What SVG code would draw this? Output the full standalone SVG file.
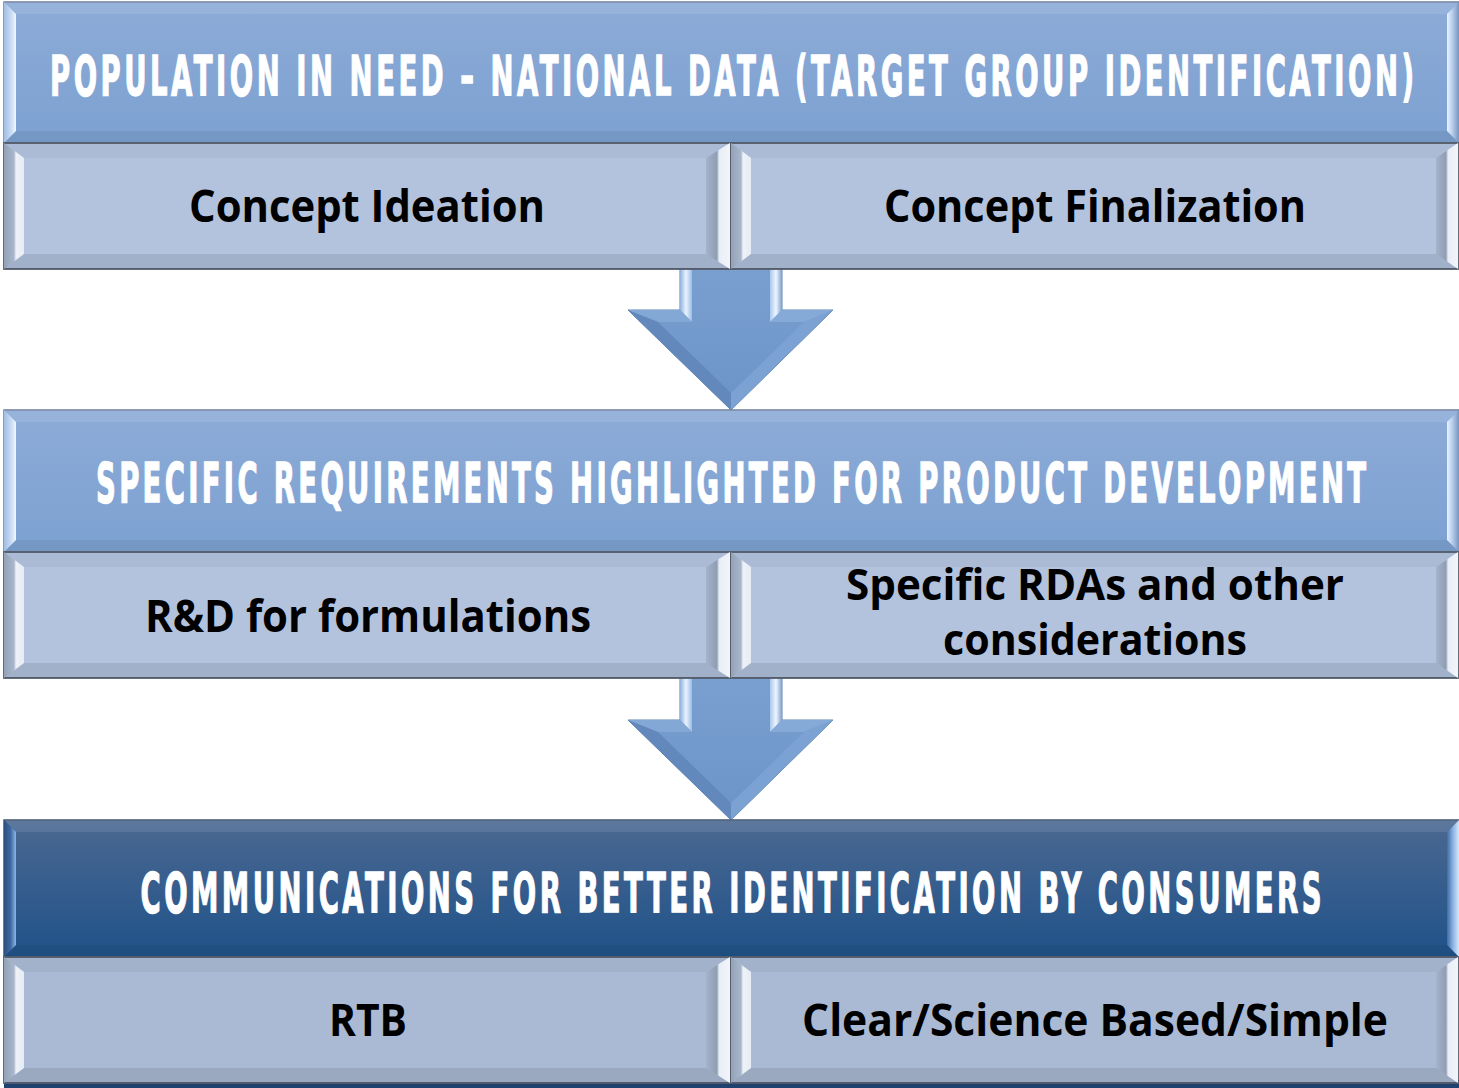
<svg xmlns="http://www.w3.org/2000/svg" width="1459" height="1088" viewBox="0 0 1459 1088">
  <style>
    .hdr { font-family: "DejaVu Sans", "Liberation Sans", sans-serif; font-weight: bold; font-size: 55px; fill: #ffffff; stroke: #ffffff; stroke-width: 1.4; text-anchor: middle; }
    .lbl { font-family: "Open Sans", "Liberation Sans", sans-serif; font-weight: 700; font-size: 45px; fill: #000000; text-anchor: middle; }
    .lbl2 { font-size: 43px; }
    .band-edge { stroke: #6c7d98; stroke-width: 1.5; }
    .sub-edge { stroke: #555d6b; stroke-width: 1.8; }
    .top-light { fill: #ffffff; opacity: 0.10; }
    .bot-dark { fill: #000000; opacity: 0.06; }
    .sub-top { fill: #000000; opacity: 0.04; }
    .sub-bot { fill: #000000; opacity: 0.09; }
  </style>
  <defs>
    <linearGradient id="bandLight" x1="0" y1="0" x2="0" y2="1">
      <stop offset="0" stop-color="#8dabd7"/>
      <stop offset="1" stop-color="#7ca1d1"/>
    </linearGradient>
    <linearGradient id="bandDark" x1="0" y1="0" x2="0" y2="1">
      <stop offset="0" stop-color="#4b6891"/>
      <stop offset="1" stop-color="#1f5289"/>
    </linearGradient>
    <!-- bevel facets of the light bands: bright towards the inner edge -->
    <linearGradient id="bandL" x1="0" y1="0" x2="1" y2="0">
      <stop offset="0" stop-color="#a2bde3"/>
      <stop offset="0.6" stop-color="#c9dcf4"/>
      <stop offset="1" stop-color="#f2f8ff"/>
    </linearGradient>
    <linearGradient id="bandR" x1="0" y1="0" x2="1" y2="0">
      <stop offset="0" stop-color="#e9f3ff"/>
      <stop offset="0.45" stop-color="#b6cdec"/>
      <stop offset="1" stop-color="#7893bb"/>
    </linearGradient>
    <linearGradient id="darkL" x1="0" y1="0" x2="1" y2="0">
      <stop offset="0" stop-color="#2e4f7c"/>
      <stop offset="0.55" stop-color="#3d6aa3"/>
      <stop offset="1" stop-color="#8fb6e6"/>
    </linearGradient>
    <linearGradient id="darkR" x1="0" y1="0" x2="1" y2="0">
      <stop offset="0" stop-color="#3f6ca6"/>
      <stop offset="0.5" stop-color="#8cb3e3"/>
      <stop offset="1" stop-color="#d5e7fb"/>
    </linearGradient>
    <!-- bevel facets of the sub boxes -->
    <linearGradient id="subL" x1="0" y1="0" x2="1" y2="0">
      <stop offset="0" stop-color="#94a2b8"/>
      <stop offset="0.5" stop-color="#a9b7cd"/>
      <stop offset="0.6" stop-color="#eef2f8"/>
      <stop offset="1" stop-color="#e6ecf5"/>
    </linearGradient>
    <linearGradient id="subR" x1="0" y1="0" x2="1" y2="0">
      <stop offset="0" stop-color="#a6b4cb"/>
      <stop offset="0.45" stop-color="#8f9db3"/>
      <stop offset="0.55" stop-color="#e9eef6"/>
      <stop offset="1" stop-color="#f2f5fa"/>
    </linearGradient>
    <linearGradient id="arrowFill" x1="0" y1="0" x2="0" y2="1">
      <stop offset="0" stop-color="#7aa0d0"/>
      <stop offset="1" stop-color="#6c94c7"/>
    </linearGradient>
    <linearGradient id="shaftL" x1="0" y1="0" x2="1" y2="0">
      <stop offset="0" stop-color="#8fb2dd"/>
      <stop offset="0.5" stop-color="#e8f2ff"/>
      <stop offset="1" stop-color="#9dbde6"/>
    </linearGradient>
    <linearGradient id="shaftR" x1="0" y1="0" x2="1" y2="0">
      <stop offset="0" stop-color="#a9c7ec"/>
      <stop offset="0.5" stop-color="#eef6ff"/>
      <stop offset="1" stop-color="#7f9fc9"/>
    </linearGradient>
    <!-- down arrow with bevel facets; origin at the top centre of the shaft -->
    <g id="downArrow">
      <polygon points="-51,0 51,0 51,48 102,48 0,148 -103,48 -51,48" fill="url(#arrowFill)" stroke="#5f82b0" stroke-width="1"/>
      <polygon points="-51,0 -39,0 -39,60 -51,48" fill="url(#shaftL)"/>
      <polygon points="39,0 51,0 51,48 39,60" fill="url(#shaftR)"/>
      <polygon points="-103,48 -51,48 -39,60 -73,60" fill="#84a8d6"/>
      <polygon points="51,48 102,48 73,60 39,60" fill="#86aad8"/>
      <polygon points="-103,48 -73,60 0,131 0,148" fill="#6389bc"/>
      <polygon points="102,48 73,60 0,131 0,148" fill="#7ba2d3"/>
    </g>
  </defs>

  <rect width="1459" height="1088" fill="#ffffff"/>

  <!-- connectors: block arrows between the stages -->
  <g id="connectors">
    <use href="#downArrow" x="731" y="262"/>
    <use href="#downArrow" x="731" y="672"/>
  </g>

  <!-- stage 1 -->
  <g id="band-population">
    <rect x="4" y="2" width="1455" height="141" fill="url(#bandLight)" class="band-edge"/>
    <polygon points="4,2 1459,2 1447,14 16,14" class="top-light"/>
    <polygon points="4,2 16,14 16,131 4,143" fill="url(#bandL)"/>
    <polygon points="1447,14 1459,2 1459,143 1447,131" fill="url(#bandR)"/>
    <polygon points="4,143 16,131 1447,131 1459,143" class="bot-dark"/>
    <text transform="translate(732 95) scale(0.5 1)" class="hdr" textLength="2728" lengthAdjust="spacing">POPULATION IN NEED – NATIONAL DATA (TARGET GROUP IDENTIFICATION)</text>
  </g>
  <g id="box-concept-ideation">
    <rect x="4" y="143" width="726" height="126" fill="#b3c3de" class="sub-edge"/>
    <polygon points="4,143 730,143 706,158 24,158" class="sub-top"/>
    <polygon points="4,143 24,158 24,254 4,269" fill="url(#subL)"/>
    <polygon points="706,158 730,143 730,269 706,254" fill="url(#subR)"/>
    <polygon points="4,269 24,254 706,254 730,269" class="sub-bot"/>
    <text x="367" y="222" class="lbl" textLength="356" lengthAdjust="spacingAndGlyphs">Concept Ideation</text>
  </g>
  <g id="box-concept-finalization">
    <rect x="731" y="143" width="727" height="126" fill="#b3c3de" class="sub-edge"/>
    <polygon points="731,143 1458,143 1436,158 751,158" class="sub-top"/>
    <polygon points="731,143 751,158 751,254 731,269" fill="url(#subL)"/>
    <polygon points="1436,158 1458,143 1458,269 1436,254" fill="url(#subR)"/>
    <polygon points="731,269 751,254 1436,254 1458,269" class="sub-bot"/>
    <text x="1095" y="222" class="lbl" textLength="422" lengthAdjust="spacingAndGlyphs">Concept Finalization</text>
  </g>

  <!-- stage 2 -->
  <g id="band-requirements">
    <rect x="4" y="410" width="1455" height="142" fill="url(#bandLight)" class="band-edge"/>
    <polygon points="4,410 1459,410 1447,422 16,422" class="top-light"/>
    <polygon points="4,410 16,422 16,540 4,552" fill="url(#bandL)"/>
    <polygon points="1447,422 1459,410 1459,552 1447,540" fill="url(#bandR)"/>
    <polygon points="4,552 16,540 1447,540 1459,552" class="bot-dark"/>
    <text transform="translate(731 502) scale(0.5 1)" class="hdr" textLength="2540" lengthAdjust="spacing">SPECIFIC REQUIREMENTS HIGHLIGHTED FOR PRODUCT DEVELOPMENT</text>
  </g>
  <g id="box-rnd">
    <rect x="4" y="552" width="726" height="126" fill="#b3c3de" class="sub-edge"/>
    <polygon points="4,552 730,552 706,567 24,567" class="sub-top"/>
    <polygon points="4,552 24,567 24,663 4,678" fill="url(#subL)"/>
    <polygon points="706,567 730,552 730,678 706,663" fill="url(#subR)"/>
    <polygon points="4,678 24,663 706,663 730,678" class="sub-bot"/>
    <text x="368" y="632" class="lbl" textLength="446" lengthAdjust="spacingAndGlyphs">R&amp;D for formulations</text>
  </g>
  <g id="box-rdas">
    <rect x="731" y="552" width="727" height="126" fill="#b3c3de" class="sub-edge"/>
    <polygon points="731,552 1458,552 1436,567 751,567" class="sub-top"/>
    <polygon points="731,552 751,567 751,663 731,678" fill="url(#subL)"/>
    <polygon points="1436,567 1458,552 1458,678 1436,663" fill="url(#subR)"/>
    <polygon points="731,678 751,663 1436,663 1458,678" class="sub-bot"/>
    <text x="1095" y="600" class="lbl lbl2" textLength="498" lengthAdjust="spacingAndGlyphs">Specific RDAs and other</text>
    <text x="1095" y="655" class="lbl lbl2" textLength="304" lengthAdjust="spacingAndGlyphs">considerations</text>
  </g>

  <!-- stage 3 -->
  <rect x="4" y="1080" width="1455" height="8" fill="#1f416f"/>
  <g id="band-communications">
    <rect x="4" y="820" width="1455" height="137" fill="url(#bandDark)" stroke="#40536e" stroke-width="1.5"/>
    <polygon points="4,820 1459,820 1447,832 16,832" class="top-light"/>
    <polygon points="4,820 16,832 16,945 4,957" fill="url(#darkL)"/>
    <polygon points="1447,832 1459,820 1459,957 1447,945" fill="url(#darkR)"/>
    <polygon points="4,957 16,945 1447,945 1459,957" class="bot-dark"/>
    <text transform="translate(731 912) scale(0.5 1)" class="hdr" textLength="2362" lengthAdjust="spacing">COMMUNICATIONS FOR BETTER IDENTIFICATION BY CONSUMERS</text>
  </g>
  <g id="box-rtb">
    <rect x="4" y="957" width="726" height="126" fill="#aabad4" class="sub-edge"/>
    <polygon points="4,957 730,957 706,972 24,972" class="sub-top"/>
    <polygon points="4,957 24,972 24,1068 4,1083" fill="url(#subL)"/>
    <polygon points="706,972 730,957 730,1083 706,1068" fill="url(#subR)"/>
    <polygon points="4,1083 24,1068 706,1068 730,1083" class="sub-bot"/>
    <text x="368" y="1036" class="lbl" textLength="78" lengthAdjust="spacingAndGlyphs">RTB</text>
  </g>
  <g id="box-clear">
    <rect x="731" y="957" width="727" height="126" fill="#aabad4" class="sub-edge"/>
    <polygon points="731,957 1458,957 1436,972 751,972" class="sub-top"/>
    <polygon points="731,957 751,972 751,1068 731,1083" fill="url(#subL)"/>
    <polygon points="1436,972 1458,957 1458,1083 1436,1068" fill="url(#subR)"/>
    <polygon points="731,1083 751,1068 1436,1068 1458,1083" class="sub-bot"/>
    <text x="1095" y="1036" class="lbl" textLength="586" lengthAdjust="spacingAndGlyphs">Clear/Science Based/Simple</text>
  </g>
</svg>
